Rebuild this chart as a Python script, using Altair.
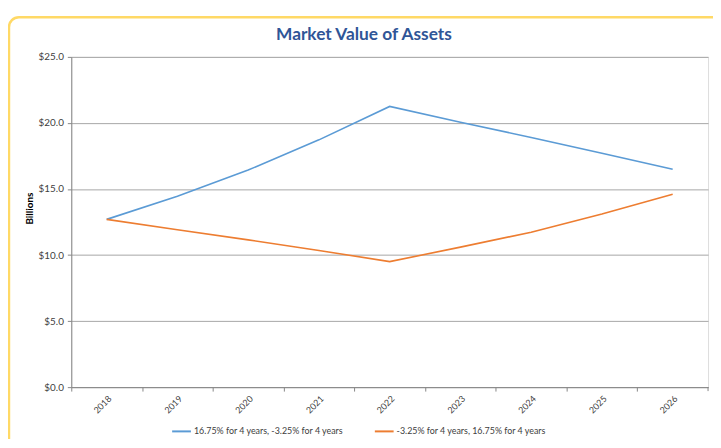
import altair as alt
import pandas as pd

years = ["2018", "2019", "2020", "2021", "2022", "2023", "2024", "2025", "2026"]
series_a_name = "16.75% for 4 years, -3.25% for 4 years"
series_b_name = "-3.25% for 4 years, 16.75% for 4 years"
series_a = [12.7, 14.45, 16.43, 18.72, 21.25, 20.05, 18.9, 17.7, 16.5]
series_b = [12.7, 11.92, 11.15, 10.35, 9.5, 10.6, 11.73, 13.1, 14.6]
chart_title = "Market Value of Assets"

rows = []
for y, a in zip(years, series_a):
    rows.append({"year": y, "value": a, "series": series_a_name})
for y, b in zip(years, series_b):
    rows.append({"year": y, "value": b, "series": series_b_name})
df = pd.DataFrame(rows)

FONT = "Lato"
W, H = 644, 334
step = W / len(years)

lines = alt.Chart(df).mark_line(strokeWidth=1.6).encode(
    x=alt.X("year:O", bandPosition=0.5,
            scale=alt.Scale(type="band", paddingInner=0, paddingOuter=0, round=False),
            axis=alt.Axis(title=None, labelAngle=-45, labelAlign="right", labelBaseline="top",
                          tickOffset=-step / 2, labelOffset=step / 2, tickSize=4, labelPadding=3,
                          grid=False, domainColor="#878787", tickColor="#878787",
                          labelColor="#404040", labelFontSize=9, labelFont=FONT)),
    y=alt.Y("value:Q", scale=alt.Scale(domain=[0, 25], nice=False),
            axis=alt.Axis(title="Billions", format="$.1f", values=[0, 5, 10, 15, 20, 25],
                          tickSize=4, labelPadding=4, gridColor="#A6A6A6", domainColor="#878787",
                          tickColor="#878787", labelColor="#404040", labelFontSize=10,
                          labelFont=FONT, titleFont=FONT, titleFontSize=10, titleFontWeight="bold",
                          titleColor="#000000", titleX=-37, titleY=153)),
    color=alt.Color("series:N", sort=[series_a_name, series_b_name],
                    scale=alt.Scale(domain=[series_a_name, series_b_name],
                                    range=["#5B9BD5", "#ED7D31"]),
                    legend=alt.Legend(title=None, orient="none", direction="horizontal",
                                      legendX=101, legendY=368, symbolType="stroke",
                                      symbolSize=361, symbolStrokeWidth=2, labelFontSize=9,
                                      labelFont=FONT, labelColor="#404040", columnPadding=27,
                                      labelOffset=2)),
)

single = pd.DataFrame({"title": [chart_title]})

frame = alt.Chart(single).mark_rect(
    fill=None, stroke="#FFD966", strokeWidth=2.5, cornerRadius=10, clip=False
).encode(
    x=alt.value(-63), x2=alt.value(700), y=alt.value(-40), y2=alt.value(460)
)

end_tick = alt.Chart(single).mark_rule(color="#878787", strokeWidth=1).encode(
    x=alt.value(W), y=alt.value(H), y2=alt.value(H + 4)
)

title = alt.Chart(single).mark_text(
    font=FONT, fontSize=17.5, fontWeight="bold", color="#2F5597",
    align="center", baseline="alphabetic"
).encode(
    text="title:N", x=alt.value(296), y=alt.value(-17)
)

chart = alt.layer(frame, title, end_tick, lines).properties(
    width=W, height=H,
    autosize=alt.AutoSizeParams(type="none"),
    padding={"left": 64, "top": 47, "right": 5, "bottom": 50},
).configure_view(stroke=None).configure(background="white")

chart.save("out.html", embed_options={"renderer": "svg", "actions": False})
